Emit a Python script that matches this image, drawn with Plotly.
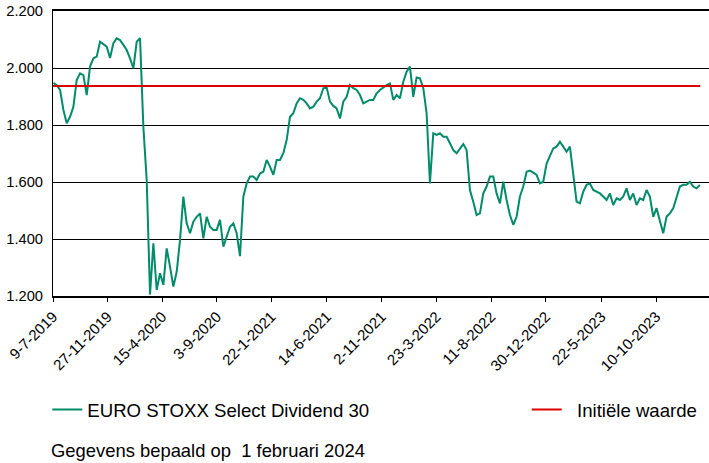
import pandas as pd
import plotly.graph_objects as go

# Index levels, evenly spaced in time (2019-07-10 .. 2024-01-31)
levels_2019_2020 = [1948, 1940, 1923, 1853, 1806, 1829, 1864, 1958, 1981, 1975, 1905, 2005,
                    2034, 2040, 2092, 2084, 2075, 2035, 2087, 2104, 2098, 2081, 2063, 2034,
                    1999, 2092, 2105, 1794, 1607, 1205, 1385, 1221, 1280, 1239, 1367, 1303,
                    1233, 1285, 1396, 1549, 1455, 1420, 1461, 1478]
levels_2020_2021 = [1490, 1402, 1478, 1443, 1432, 1432, 1467, 1373, 1408, 1443, 1455, 1420,
                    1340, 1549, 1595, 1619, 1619, 1607, 1630, 1636, 1677, 1654, 1625, 1677,
                    1677, 1701, 1747, 1829, 1841, 1876, 1894, 1888, 1876, 1858, 1864, 1882,
                    1894, 1929, 1932, 1882, 1867, 1858, 1823, 1882, 1899, 1940, 1929, 1923,
                    1905, 1876, 1882, 1888, 1888, 1911]
levels_2021_2022 = [1923, 1932, 1940, 1946, 1888, 1905, 1894, 1952, 1987, 2005, 1899, 1967,
                    1964, 1929, 1841, 1595, 1771, 1765, 1771, 1759, 1759, 1736, 1712, 1701,
                    1718, 1733, 1712, 1572, 1531, 1484, 1490, 1560, 1584, 1619, 1619, 1560,
                    1525, 1601, 1537, 1484, 1450, 1478, 1549, 1584, 1636, 1640, 1633, 1625,
                    1595, 1601, 1665]
levels_2022_2024 = [1695, 1718, 1724, 1741, 1724, 1706, 1724, 1630, 1531, 1525, 1566, 1590,
                    1595, 1572, 1566, 1560, 1549, 1537, 1560, 1519, 1543, 1537, 1549, 1578,
                    1537, 1560, 1519, 1543, 1537, 1572, 1549, 1478, 1508, 1461, 1420, 1478,
                    1490, 1508, 1549, 1584, 1590, 1590, 1601, 1584, 1578, 1590]
levels = levels_2019_2020 + levels_2020_2021 + levels_2021_2022 + levels_2022_2024
dates = pd.date_range("2019-07-10", "2024-01-31", periods=len(levels))

initial_value = 1937
initial_dates = ["2019-07-09", "2024-02-01"]

tick_dates = ["2019-07-09", "2019-11-27", "2020-04-15", "2020-09-03", "2021-01-22",
              "2021-06-14", "2021-11-02", "2022-03-23", "2022-08-11", "2022-12-30",
              "2023-05-22", "2023-10-10"]
tick_labels = ["9-7-2019", "27-11-2019", "15-4-2020", "3-9-2020", "22-1-2021",
               "14-6-2021", "2-11-2021", "23-3-2022", "11-8-2022", "30-12-2022",
               "22-5-2023", "10-10-2023"]
y_ticks = [1200, 1400, 1600, 1800, 2000, 2200]
y_labels = ["1.200", "1.400", "1.600", "1.800", "2.000", "2.200"]

series_name = "EURO STOXX Select Dividend 30"
initial_name = "Initiële waarde"
footer = "Gegevens bepaald op  1 februari 2024"

GREEN = "#008C69"
RED = "#DC0000"
FONT = "Liberation Sans, Arial, sans-serif"

fig = go.Figure()
fig.add_trace(go.Scatter(x=dates, y=levels, mode="lines", name=series_name,
                         line=dict(color=GREEN, width=2), legend="legend"))
fig.add_trace(go.Scatter(x=initial_dates, y=[initial_value, initial_value], mode="lines",
                         name="\u00a0\u00a0" + initial_name,
                         line=dict(color=RED, width=2), legend="legend2"))

legend_common = dict(orientation="h", xanchor="left", xref="paper",
                     yref="container", yanchor="middle", y=1 - 410 / 463,
                     font=dict(size=18.6, color="black"), itemwidth=30,
                     bgcolor="rgba(0,0,0,0)")

fig.update_layout(
    width=709, height=463,
    margin=dict(l=53, r=0, t=11, b=167, autoexpand=False),
    paper_bgcolor="white", plot_bgcolor="white",
    font=dict(family=FONT, size=15, color="black"),
    showlegend=True,
    legend=dict(x=(47.3 - 53) / 656, **legend_common),
    legend2=dict(x=(526.7 - 53) / 656, **legend_common),
    xaxis=dict(type="date", range=["2019-07-09", "2024-02-23 12:00"],
               tickvals=tick_dates, ticktext=tick_labels, tickangle=-45,
               ticks="outside", ticklen=4, tickwidth=1, tickcolor="black",
               showline=True, linecolor="black", linewidth=2, mirror=True,
               showgrid=False, zeroline=False, automargin=False,
               tickfont=dict(size=15, color="black")),
    yaxis=dict(range=[1200, 2200], tickvals=y_ticks, ticktext=y_labels,
               ticks="", showline=True, linecolor="black", linewidth=1,
               showgrid=True, gridcolor="black", gridwidth=1, zeroline=False,
               automargin=False, ticklabelstandoff=6,
               tickfont=dict(size=14.7, color="black")),
    annotations=[dict(text=footer, x=(49 - 53) / 656, xref="paper", xanchor="left",
                      y=(296 - 450) / 285, yref="paper", yanchor="middle",
                      showarrow=False, font=dict(size=18.4, color="black"))],
)

fig.write_html("out.html", config={"displayModeBar": False},
               post_script="document.body.style.margin='0px';document.body.style.overflow='hidden';")
